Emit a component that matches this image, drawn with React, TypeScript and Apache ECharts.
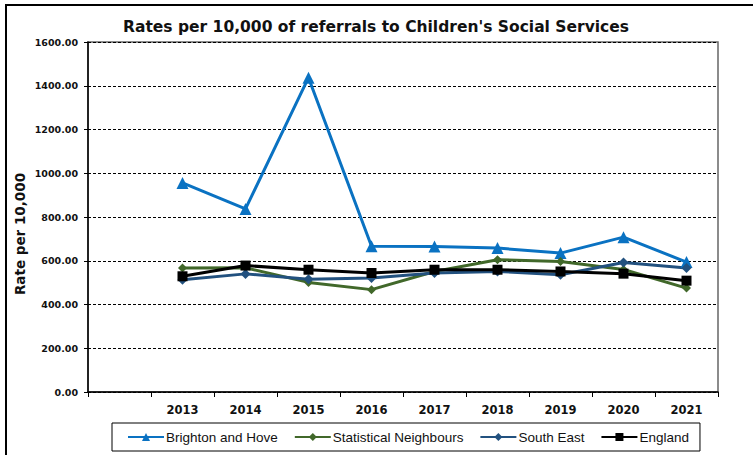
import React, { useEffect, useRef } from "react";
import * as echarts from "echarts";

const years = ["2013", "2014", "2015", "2016", "2017", "2018", "2019", "2020", "2021"];
const categories = ["", ...years];
const yTicks = [0, 200, 400, 600, 800, 1000, 1200, 1400, 1600];

const brighton = [956, 837, 1437, 666, 665, 658, 635, 708, 594];
const statNeighbours = [567, 568, 501, 468, 551, 605, 597, 560, 475];
const southEast = [513, 540, 515, 521, 544, 551, 536, 592, 567];
const england = [529, 578, 559, 544, 559, 559, 551, 541, 509];

const ARIAL = '"Liberation Sans", Arial, sans-serif';
const VERDANA = '"DejaVu Sans", Verdana, sans-serif';

export default function App() {
  const ref = useRef<HTMLDivElement>(null);
  useEffect(() => {
    if (!ref.current) return;
    const chart = echarts.init(ref.current, null, { renderer: "svg" });
    const mk = (name: string, data: number[], color: string, symbol: string, size: number) => ({
      name,
      type: "line",
      data: [null, ...data],
      symbol,
      symbolSize: size,
      lineStyle: { color, width: 3 },
      itemStyle: { color },
      connectNulls: false,
    });
    chart.setOption({
      animation: false,
      backgroundColor: "#ffffff",
      title: {
        text: "Rates per 10,000 of referrals to Children's Social Services",
        left: 371,
        top: 14,
        textAlign: "center",
        textStyle: { fontFamily: VERDANA, fontWeight: "bold", fontSize: 15.5, color: "#111" },
      },
      grid: {
        left: 88,
        top: 42,
        right: 35,
        bottom: 63,
        show: true,
        borderColor: "#666",
        borderWidth: 1.5,
        backgroundColor: "transparent",
      },
      xAxis: {
        type: "category",
        data: categories,
        boundaryGap: true,
        axisLine: { lineStyle: { color: "#000", width: 1.5 } },
        axisTick: { show: true, length: 5, lineStyle: { color: "#000" }, inside: false },
        axisLabel: { color: "#111", fontFamily: VERDANA, fontWeight: "bold", fontSize: 11.5, margin: 12, interval: 0 },
        splitLine: { show: false },
      },
      yAxis: {
        type: "value",
        min: yTicks[0],
        max: yTicks[yTicks.length - 1],
        interval: 200,
        axisLine: { show: true, lineStyle: { color: "#000", width: 1.5 } },
        axisTick: { show: true, length: 4, lineStyle: { color: "#000" } },
        axisLabel: {
          color: "#111",
          fontFamily: VERDANA,
          fontWeight: "bold",
          fontSize: 9.5,
          margin: 10,
          formatter: (v: number) => v.toFixed(2),
        },
        splitLine: { show: true, lineStyle: { color: "#000", type: [3, 2], width: 1 } },
      },
      legend: {
        left: 112,
        top: 423,
        padding: [6, 11, 6, 15],
        itemGap: 16,
        itemWidth: 36,
        itemHeight: 10,
        borderColor: "#000",
        borderWidth: 1,
        textStyle: { fontFamily: ARIAL, fontSize: 13.5, color: "#111", lineHeight: 16, padding: [0, 0, 0, -3] },
        data: ["Brighton and Hove", "Statistical Neighbours", "South East", "England"],
      },
      graphic: [
        {
          type: "rect",
          silent: true,
          shape: { x: 6, y: 5, width: 800, height: 500 },
          style: { fill: "none", stroke: "#000", lineWidth: 2 },
        },
        {
          type: "text",
          x: 20,
          y: 234,
          rotation: Math.PI / 2,
          style: {
            text: "Rate per 10,000",
            fontFamily: VERDANA,
            fontWeight: "bold",
            fontSize: 13.5,
            fill: "#111",
            textAlign: "center",
            textVerticalAlign: "middle",
          },
        },
      ],
      series: [
        mk("Brighton and Hove", brighton, "#0a72c2", "triangle", 12),
        mk("Statistical Neighbours", statNeighbours, "#41682a", "diamond", 9),
        mk("South East", southEast, "#22517f", "diamond", 10),
        mk("England", england, "#000000", "rect", 10),
      ],
    });
    return () => chart.dispose();
  }, []);
  return <div ref={ref} style={{ position: "fixed", left: 0, top: 0, width: 753, height: 455 }} />;
}
